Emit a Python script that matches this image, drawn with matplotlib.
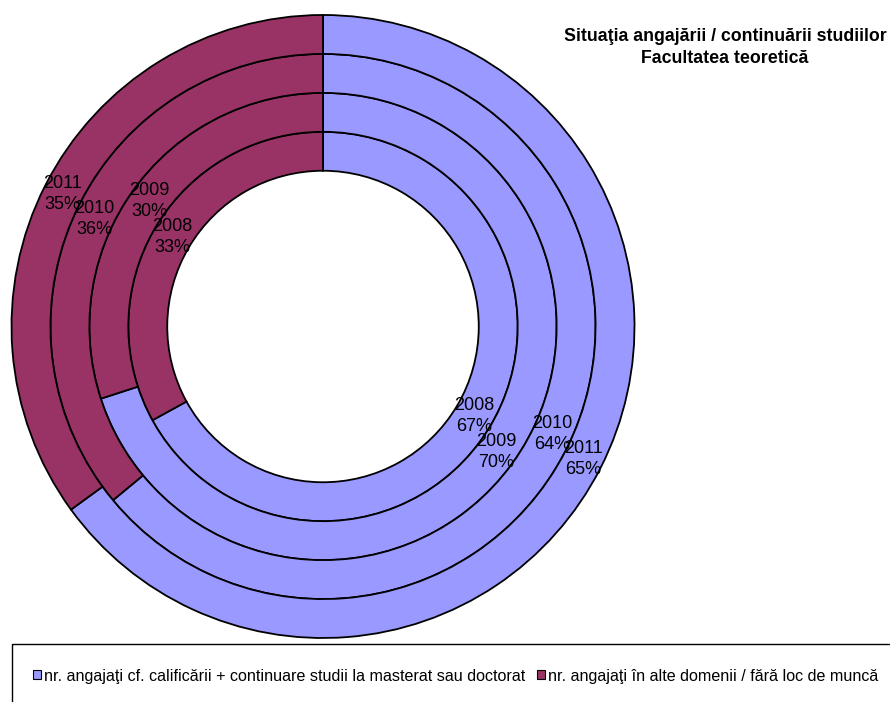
import numpy as np
import matplotlib
matplotlib.use('Agg')
import matplotlib.pyplot as plt
from matplotlib.patches import Rectangle

plt.rcParams['font.family'] = ['Liberation Sans', 'DejaVu Sans']

# data
years = ['2008', '2009', '2010', '2011']
employed_pct = [67, 70, 64, 65]
other_pct = [33, 30, 36, 35]
series_names = ['nr. angajaţi cf. calificării + continuare studii la masterat sau doctorat',
                'nr. angajaţi în alte domenii / fără loc de muncă']
colors = ['#9999FF', '#993366']
title = 'Situaţia angajării / continuării studiilor\nFacultatea teoretică'

fig = plt.figure(figsize=(8.9, 7.02), dpi=100)
ax = fig.add_axes([11.5 / 890, 64 / 702, 623 / 890, 623 / 702])

ring_w = 0.125
for i, year in enumerate(years):
    radius = 0.5 + ring_w * (i + 1)
    wedges, _ = ax.pie([employed_pct[i], other_pct[i]], radius=radius,
                       colors=colors, startangle=90, counterclock=False,
                       wedgeprops=dict(width=ring_w, edgecolor='black', linewidth=1.3))
    for w, val in zip(wedges, [employed_pct[i], other_pct[i]]):
        ang = np.deg2rad((w.theta1 + w.theta2) / 2)
        r = w.r - w.width / 2
        ax.text(r * np.cos(ang), r * np.sin(ang), '%s\n%d%%' % (year, val),
                ha='center', va='center', fontsize=13, linespacing=1.3)

ax.set_xlim(-1, 1)
ax.set_ylim(-1, 1)
ax.set_aspect('equal')
ax.axis('off')

fig.text(725 / 890, 1 - 47.5 / 702, title, ha='center', va='center',
         fontsize=12.8, fontweight='bold', linespacing=1.45)

# legend box (runs off the right and bottom edges)
fig.patches.append(Rectangle((12 / 890, -0.05), 1.0, 0.05 + (702 - 644) / 702,
                             transform=fig.transFigure, facecolor='none',
                             edgecolor='black', linewidth=1.0, clip_on=False))
handles = [Rectangle((0, 0), 1, 1, facecolor=c, edgecolor='black', linewidth=0.8)
           for c in colors]
fig.legend(handles, series_names, ncol=2, loc='center left',
           bbox_to_anchor=(33 / 890, 1 - 676 / 702), frameon=False,
           handlelength=0.5, handleheight=0.5, handletextpad=0.2,
           columnspacing=0.7, fontsize=11.6, borderaxespad=0, borderpad=0)

fig.savefig('out.png', dpi=100)
